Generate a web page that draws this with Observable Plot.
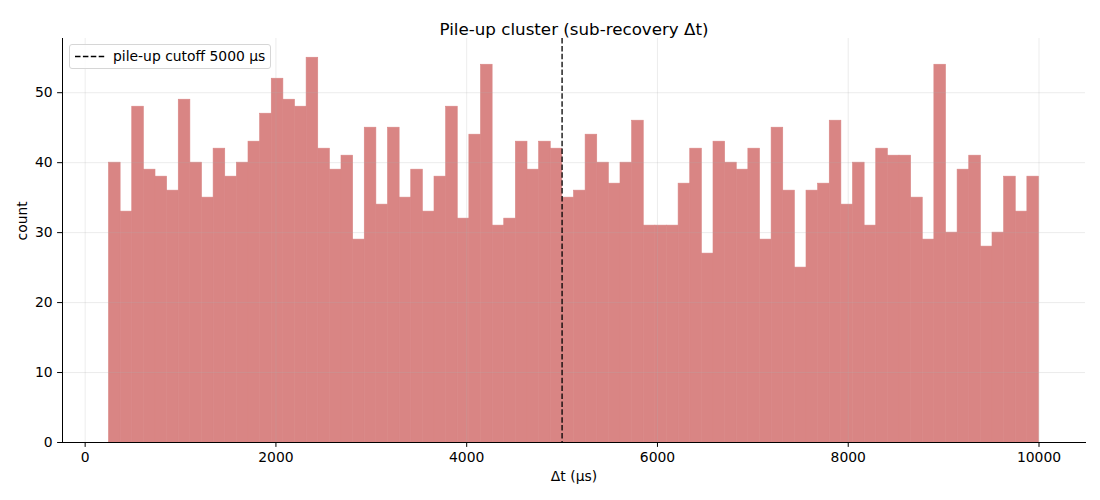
<!DOCTYPE html>
<html>
<head>
<meta charset="utf-8">
<script src="https://cdn.jsdelivr.net/npm/d3@7"></script>
<script src="https://cdn.jsdelivr.net/npm/@observablehq/plot@0.6"></script>
<style>
  html, body { margin: 0; padding: 0; background: #fff; }
  #wrap { position: relative; width: 1100px; height: 500px; font-family: "DejaVu Sans", sans-serif; }
  #legend { position: absolute; left: 69px; top: 44px; width: 202px; height: 25px;
    border: 1px solid #d6d6d6; border-radius: 3px; background: rgba(255,255,255,0.8);
    box-sizing: border-box; font-size: 13.9px; color: #000; }
  #legend svg { position: absolute; left: 4px; top: 10px; }
  #legend span { position: absolute; left: 43px; top: 3px; white-space: nowrap; }
</style>
</head>
<body>
<div id="wrap"></div>
<script>
// ---- data ----
const binStart = 250;
const binWidth = 121.875;
const counts = [40,33,48,39,38,36,49,40,35,42,38,40,43,47,52,49,48,55,42,39,
                41,29,45,34,45,35,39,33,38,48,32,44,54,31,32,43,39,43,42,35,
                36,44,40,37,40,46,31,31,31,37,42,27,43,40,39,42,29,45,36,25,
                36,37,46,34,40,31,42,41,41,35,29,54,30,39,41,28,30,38,33,38];
const cutoff = 5000;
const xTicks = [0, 2000, 4000, 6000, 8000, 10000];
const yTicks = [0, 10, 20, 30, 40, 50];
const titleText = "Pile-up cluster (sub-recovery Δt)";
const xLabel = "Δt (μs)";
const yLabel = "count";
const legendText = "pile-up cutoff 5000 μs";

const bins = counts.map((c, i) => ({
  x1: binStart + i * binWidth,
  x2: binStart + (i + 1) * binWidth,
  count: c
}));

const chart = Plot.plot({
  width: 1100,
  height: 500,
  marginLeft: 62,
  marginRight: 15,
  marginTop: 38,
  marginBottom: 58,
  style: { fontFamily: "DejaVu Sans, sans-serif", fontSize: "13.9px", color: "#000", background: "#fff" },
  x: { domain: [-237.5, 10487.5] },
  y: { domain: [0, 57.75] },
  marks: [
    Plot.rectY(bins, { x1: "x1", x2: "x2", y: "count", fill: "#d98584", stroke: "#d98584", strokeWidth: 0.6, inset: 0 }),
    Plot.gridX(xTicks, { stroke: "#b0b0b0", strokeOpacity: 0.3, strokeWidth: 0.8 }),
    Plot.gridY(yTicks, { stroke: "#b0b0b0", strokeOpacity: 0.3, strokeWidth: 0.8 }),
    Plot.ruleX([cutoff], { stroke: "#000", strokeWidth: 1.3, strokeDasharray: "5.5,2.4" }),
    Plot.axisX(xTicks, { tickSize: 4.9, tickPadding: 4.9, tickFormat: d => String(d), label: null, fontSize: 13.9 }),
    Plot.axisY(yTicks, { tickSize: 4.9, tickPadding: 4.9, tickFormat: d => String(d), label: null, fontSize: 13.9 }),
    Plot.frame({ anchor: "left", stroke: "#000", strokeWidth: 1 }),
    Plot.frame({ anchor: "bottom", stroke: "#000", strokeWidth: 1 }),
    Plot.text([titleText], { frameAnchor: "top", dy: -15, fontSize: 16.7, fill: "#000" }),
    Plot.text([xLabel], { frameAnchor: "bottom", dy: 38, fontSize: 13.9, fill: "#000" }),
    Plot.text([yLabel], { frameAnchor: "left", dx: -40, rotate: -90, fontSize: 13.9, fill: "#000" })
  ]
});

const wrap = document.getElementById("wrap");
wrap.appendChild(chart);

const legend = document.createElement("div");
legend.id = "legend";
legend.innerHTML = `<svg width="32" height="4"><line x1="1" y1="1.5" x2="31" y2="1.5" stroke="#000" stroke-width="1.3" stroke-dasharray="5.5,2.4"/></svg><span>${legendText}</span>`;
wrap.appendChild(legend);
</script>
</body>
</html>
